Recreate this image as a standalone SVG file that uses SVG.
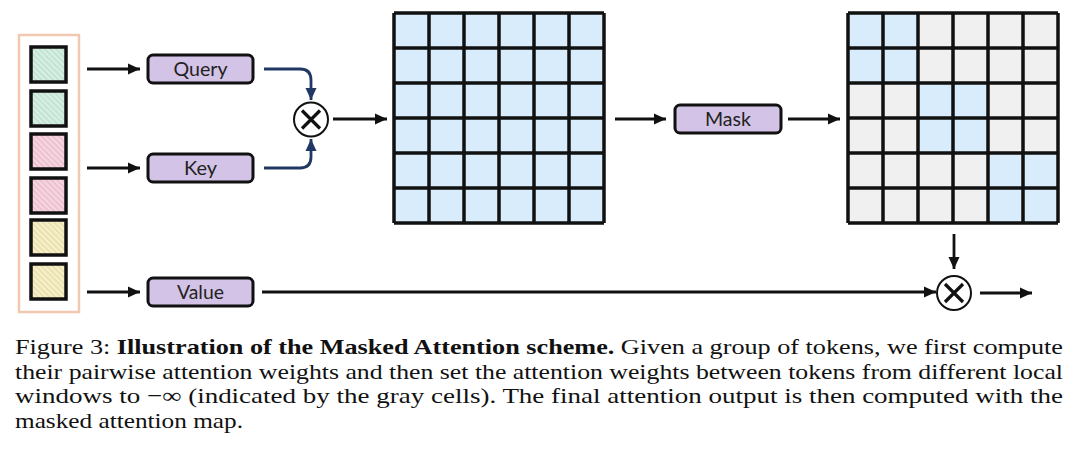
<svg xmlns="http://www.w3.org/2000/svg" width="1080" height="456" viewBox="0 0 1080 456">
<style>
.box{fill:#d3c3e6;stroke:#111;stroke-width:3;}
.lbl{font-family:"Lato","Liberation Sans",sans-serif;font-size:19.5px;fill:#222;text-anchor:middle;}
.tok{stroke:#111;stroke-width:3.5;}
.conn{stroke:#111;stroke-width:2.8;fill:none;}
.nav{stroke:#1f3864;stroke-width:2.8;fill:none;}
.grid{stroke:#111;stroke-width:3.5;fill:none;}
.op{fill:#fff;stroke:#111;stroke-width:2;}
.opx{stroke:#111;stroke-width:3.2;}
.cap{font-family:"Liberation Serif","Times New Roman",serif;font-size:21.5px;fill:#111;}
</style>
<defs>
<marker id="ah" markerUnits="userSpaceOnUse" markerWidth="14" markerHeight="14" refX="12" refY="7" orient="auto"><path d="M0,1.5 L12,7 L0,12.5 z" fill="#111"/></marker>
<marker id="ahn" markerUnits="userSpaceOnUse" markerWidth="14" markerHeight="14" refX="12" refY="7" orient="auto"><path d="M0,1.5 L12,7 L0,12.5 z" fill="#1f3864"/></marker>
<pattern id="hg" patternUnits="userSpaceOnUse" width="4" height="4" patternTransform="rotate(-45)"><rect width="4" height="4" fill="#d8efe3"/><line x1="1" y1="0" x2="1" y2="4" stroke="#b5dbc8" stroke-width="1.2"/></pattern>
<pattern id="hp" patternUnits="userSpaceOnUse" width="4" height="4" patternTransform="rotate(-45)"><rect width="4" height="4" fill="#f6d7e1"/><line x1="1" y1="0" x2="1" y2="4" stroke="#e6b3c5" stroke-width="1.2"/></pattern>
<pattern id="hy" patternUnits="userSpaceOnUse" width="4" height="4" patternTransform="rotate(-45)"><rect width="4" height="4" fill="#f7f0cb"/><line x1="1" y1="0" x2="1" y2="4" stroke="#e2d79e" stroke-width="1.2"/></pattern>
</defs>
<rect width="1080" height="456" fill="#fff"/>

<g id="tokens">
<rect x="19" y="35" width="60" height="277" fill="none" stroke="#f3c8b1" stroke-width="2.5"/>
<rect class="tok" x="31" y="47" width="35" height="35" fill="url(#hg)"/>
<rect class="tok" x="31" y="91" width="35" height="35" fill="url(#hg)"/>
<rect class="tok" x="31" y="134" width="35" height="35" fill="url(#hp)"/>
<rect class="tok" x="31" y="178" width="35" height="35" fill="url(#hp)"/>
<rect class="tok" x="31" y="220" width="35" height="35" fill="url(#hy)"/>
<rect class="tok" x="31" y="264" width="35" height="35" fill="url(#hy)"/>
</g>

<g id="query"><rect class="box" x="148" y="55" width="105" height="28" rx="5"/><text class="lbl" x="200.5" y="76" textLength="54" lengthAdjust="spacingAndGlyphs">Query</text></g>
<g id="key"><rect class="box" x="148" y="154" width="105" height="28" rx="5"/><text class="lbl" x="200.5" y="175" textLength="33" lengthAdjust="spacingAndGlyphs">Key</text></g>
<g id="value"><rect class="box" x="148" y="278" width="105" height="28" rx="5"/><text class="lbl" x="200.5" y="299" textLength="47" lengthAdjust="spacingAndGlyphs">Value</text></g>
<g id="mask"><rect class="box" x="675" y="105" width="106" height="28" rx="5"/><text class="lbl" x="728" y="126" textLength="46" lengthAdjust="spacingAndGlyphs">Mask</text></g>

<g id="mult1"><circle class="op" cx="311" cy="119.5" r="17"/><path class="opx" d="M302,110.5 L320,128.5 M320,110.5 L302,128.5"/></g>
<g id="mult2"><circle class="op" cx="954" cy="293" r="17"/><path class="opx" d="M945,284 L963,302 M963,284 L945,302"/></g>

<g id="attn-map">
<rect x="394" y="13" width="210" height="210" fill="#d9ecfb"/>
<path class="grid" d="M394,13V223M429,13V223M464,13V223M499,13V223M534,13V223M569,13V223M604,13V223M394,13H604M394,48H604M394,83H604M394,118H604M394,153H604M394,188H604M394,223H604"/>
</g>

<g id="masked-map">
<rect x="848" y="13" width="210" height="210" fill="#f0f0f0"/>
<rect x="848" y="13" width="70" height="70" fill="#d9ecfb"/>
<rect x="918" y="83" width="70" height="70" fill="#d9ecfb"/>
<rect x="988" y="153" width="70" height="70" fill="#d9ecfb"/>
<path class="grid" d="M848,13V223M883,13V223M918,13V223M953,13V223M988,13V223M1023,13V223M1058,13V223M848,13H1058M848,48H1058M848,83H1058M848,118H1058M848,153H1058M848,188H1058M848,223H1058"/>
</g>

<g id="connectors">
<line class="conn" x1="87" y1="69" x2="140" y2="69" marker-end="url(#ah)"/>
<line class="conn" x1="87" y1="168" x2="140" y2="168" marker-end="url(#ah)"/>
<line class="conn" x1="87" y1="292" x2="140" y2="292" marker-end="url(#ah)"/>
<path class="nav" d="M264,69 H300 Q311,69 311,80 V100" marker-end="url(#ahn)"/>
<path class="nav" d="M264,168 H300 Q311,168 311,157 V139" marker-end="url(#ahn)"/>
<line class="conn" x1="333" y1="119" x2="387" y2="119" marker-end="url(#ah)"/>
<line class="conn" x1="615" y1="119" x2="666" y2="119" marker-end="url(#ah)"/>
<line class="conn" x1="788" y1="119" x2="840" y2="119" marker-end="url(#ah)"/>
<line class="conn" x1="954" y1="234" x2="954" y2="269" marker-end="url(#ah)"/>
<line class="conn" x1="262" y1="292" x2="936" y2="292" marker-end="url(#ah)"/>
<line class="conn" x1="980" y1="293" x2="1032" y2="293" marker-end="url(#ah)"/>
</g>

<g id="caption">
<text class="cap" x="15" y="354" textLength="1048" lengthAdjust="spacingAndGlyphs">Figure 3: <tspan font-weight="bold">Illustration of the Masked Attention scheme.</tspan> Given a group of tokens, we first compute</text>
<text class="cap" x="15" y="379" textLength="1048" lengthAdjust="spacingAndGlyphs">their pairwise attention weights and then set the attention weights between tokens from different local</text>
<text class="cap" x="15" y="403" textLength="1048" lengthAdjust="spacingAndGlyphs">windows to −∞ (indicated by the gray cells). The final attention output is then computed with the</text>
<text class="cap" x="15" y="428" textLength="228" lengthAdjust="spacingAndGlyphs">masked attention map.</text>
</g>
</svg>
